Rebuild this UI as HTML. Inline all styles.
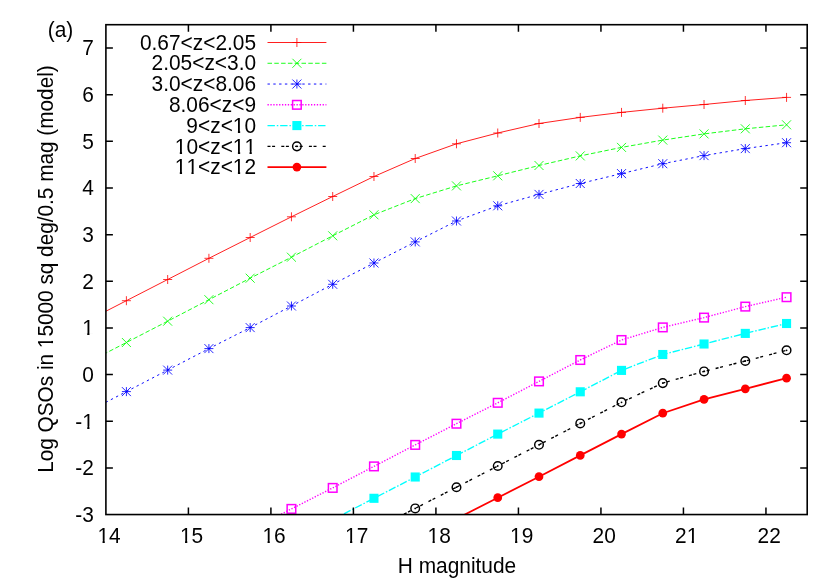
<!DOCTYPE html>
<html><head><meta charset="utf-8"><title>plot</title>
<style>html,body{margin:0;padding:0;background:#fff}svg{display:block}text{font-family:"Liberation Sans",sans-serif;font-size:21.6px;font-kerning:none;fill:#000}</style></head><body>
<svg width="830" height="581" viewBox="0 0 830 581">
<rect width="830" height="581" fill="#fff"/>
<defs><clipPath id="c"><rect x="105.9" y="24.7" width="701.30" height="489.85"/></clipPath></defs>
<g clip-path="url(#c)">
<path d="M85.14 321.90L126.40 300.70L167.66 279.50L208.92 258.30L250.18 237.50L291.44 216.80L332.70 196.50L373.96 176.50L415.22 158.50L456.48 143.80L497.74 133.00L539.00 123.50L580.26 117.40L621.52 112.40L662.78 108.20L704.04 104.50L745.30 100.50L786.56 97.40" stroke="#ff0000" stroke-width="0.88" fill="none"/>
<path d="M85.14 363.80L126.40 342.50L167.66 321.20L208.92 299.70L250.18 278.20L291.44 257.20L332.70 235.80L373.96 214.80L415.22 198.60L456.48 185.90L497.74 175.80L539.00 165.50L580.26 155.90L621.52 147.40L662.78 140.10L704.04 133.90L745.30 128.80L786.56 124.80" stroke="#00ff00" stroke-width="0.9" fill="none" stroke-dasharray="4.5 2.3"/>
<path d="M85.14 413.10L126.40 391.60L167.66 370.10L208.92 348.60L250.18 327.60L291.44 306.00L332.70 284.30L373.96 263.00L415.22 241.90L456.48 221.00L497.74 205.80L539.00 194.40L580.26 183.50L621.52 173.60L662.78 163.70L704.04 155.60L745.30 148.60L786.56 142.70" stroke="#0000ff" stroke-width="0.95" fill="none" stroke-dasharray="2.4 3.4"/>
<path d="M250.18 530.10L291.44 508.90L332.70 487.90L373.96 466.40L415.22 444.90L456.48 423.70L497.74 402.80L539.00 381.40L580.26 360.00L621.52 340.00L662.78 327.40L704.04 317.60L745.30 306.60L786.56 297.20" stroke="#ff00ff" stroke-width="1.4" fill="none" stroke-dasharray="1.3 1.6"/>
<path d="M332.70 519.60L373.96 498.30L415.22 477.00L456.48 455.50L497.74 434.10L539.00 413.10L580.26 391.80L621.52 370.40L662.78 354.50L704.04 344.00L745.30 333.40L786.56 323.50" stroke="#00ffff" stroke-width="1.35" fill="none" stroke-dasharray="7.4 1.9 1.5 1.85"/>
<path d="M373.96 529.60L415.22 508.40L456.48 487.20L497.74 466.00L539.00 444.80L580.26 423.40L621.52 402.30L662.78 383.10L704.04 371.40L745.30 361.00L786.56 350.30" stroke="#000000" stroke-width="1.35" fill="none" stroke-dasharray="3.0 1.6 3.0 6.2" stroke-dashoffset="-6.1"/>
<path d="M456.48 518.80L497.74 497.70L539.00 476.70L580.26 455.40L621.52 434.10L662.78 413.20L704.04 399.30L745.30 388.80L786.56 378.20" stroke="#ff0000" stroke-width="1.75" fill="none"/>
</g>
<path d="M121.90 300.70H130.90M126.40 296.20V305.20" stroke="#ff0000" stroke-width="0.8" fill="none"/>
<path d="M163.16 279.50H172.16M167.66 275.00V284.00" stroke="#ff0000" stroke-width="0.8" fill="none"/>
<path d="M204.42 258.30H213.42M208.92 253.80V262.80" stroke="#ff0000" stroke-width="0.8" fill="none"/>
<path d="M245.68 237.50H254.68M250.18 233.00V242.00" stroke="#ff0000" stroke-width="0.8" fill="none"/>
<path d="M286.94 216.80H295.94M291.44 212.30V221.30" stroke="#ff0000" stroke-width="0.8" fill="none"/>
<path d="M328.20 196.50H337.20M332.70 192.00V201.00" stroke="#ff0000" stroke-width="0.8" fill="none"/>
<path d="M369.46 176.50H378.46M373.96 172.00V181.00" stroke="#ff0000" stroke-width="0.8" fill="none"/>
<path d="M410.72 158.50H419.72M415.22 154.00V163.00" stroke="#ff0000" stroke-width="0.8" fill="none"/>
<path d="M451.98 143.80H460.98M456.48 139.30V148.30" stroke="#ff0000" stroke-width="0.8" fill="none"/>
<path d="M493.24 133.00H502.24M497.74 128.50V137.50" stroke="#ff0000" stroke-width="0.8" fill="none"/>
<path d="M534.50 123.50H543.50M539.00 119.00V128.00" stroke="#ff0000" stroke-width="0.8" fill="none"/>
<path d="M575.76 117.40H584.76M580.26 112.90V121.90" stroke="#ff0000" stroke-width="0.8" fill="none"/>
<path d="M617.02 112.40H626.02M621.52 107.90V116.90" stroke="#ff0000" stroke-width="0.8" fill="none"/>
<path d="M658.28 108.20H667.28M662.78 103.70V112.70" stroke="#ff0000" stroke-width="0.8" fill="none"/>
<path d="M699.54 104.50H708.54M704.04 100.00V109.00" stroke="#ff0000" stroke-width="0.8" fill="none"/>
<path d="M740.80 100.50H749.80M745.30 96.00V105.00" stroke="#ff0000" stroke-width="0.8" fill="none"/>
<path d="M782.06 97.40H791.06M786.56 92.90V101.90" stroke="#ff0000" stroke-width="0.8" fill="none"/>
<path d="M121.90 338.00L130.90 347.00M121.90 347.00L130.90 338.00" stroke="#00ff00" stroke-width="0.85" fill="none"/>
<path d="M163.16 316.70L172.16 325.70M163.16 325.70L172.16 316.70" stroke="#00ff00" stroke-width="0.85" fill="none"/>
<path d="M204.42 295.20L213.42 304.20M204.42 304.20L213.42 295.20" stroke="#00ff00" stroke-width="0.85" fill="none"/>
<path d="M245.68 273.70L254.68 282.70M245.68 282.70L254.68 273.70" stroke="#00ff00" stroke-width="0.85" fill="none"/>
<path d="M286.94 252.70L295.94 261.70M286.94 261.70L295.94 252.70" stroke="#00ff00" stroke-width="0.85" fill="none"/>
<path d="M328.20 231.30L337.20 240.30M328.20 240.30L337.20 231.30" stroke="#00ff00" stroke-width="0.85" fill="none"/>
<path d="M369.46 210.30L378.46 219.30M369.46 219.30L378.46 210.30" stroke="#00ff00" stroke-width="0.85" fill="none"/>
<path d="M410.72 194.10L419.72 203.10M410.72 203.10L419.72 194.10" stroke="#00ff00" stroke-width="0.85" fill="none"/>
<path d="M451.98 181.40L460.98 190.40M451.98 190.40L460.98 181.40" stroke="#00ff00" stroke-width="0.85" fill="none"/>
<path d="M493.24 171.30L502.24 180.30M493.24 180.30L502.24 171.30" stroke="#00ff00" stroke-width="0.85" fill="none"/>
<path d="M534.50 161.00L543.50 170.00M534.50 170.00L543.50 161.00" stroke="#00ff00" stroke-width="0.85" fill="none"/>
<path d="M575.76 151.40L584.76 160.40M575.76 160.40L584.76 151.40" stroke="#00ff00" stroke-width="0.85" fill="none"/>
<path d="M617.02 142.90L626.02 151.90M617.02 151.90L626.02 142.90" stroke="#00ff00" stroke-width="0.85" fill="none"/>
<path d="M658.28 135.60L667.28 144.60M658.28 144.60L667.28 135.60" stroke="#00ff00" stroke-width="0.85" fill="none"/>
<path d="M699.54 129.40L708.54 138.40M699.54 138.40L708.54 129.40" stroke="#00ff00" stroke-width="0.85" fill="none"/>
<path d="M740.80 124.30L749.80 133.30M740.80 133.30L749.80 124.30" stroke="#00ff00" stroke-width="0.85" fill="none"/>
<path d="M782.06 120.30L791.06 129.30M782.06 129.30L791.06 120.30" stroke="#00ff00" stroke-width="0.85" fill="none"/>
<path d="M121.90 387.10L130.90 396.10M121.90 396.10L130.90 387.10M121.90 391.60H130.90M126.40 387.10V396.10" stroke="#0000ff" stroke-width="0.85" fill="none"/>
<path d="M163.16 365.60L172.16 374.60M163.16 374.60L172.16 365.60M163.16 370.10H172.16M167.66 365.60V374.60" stroke="#0000ff" stroke-width="0.85" fill="none"/>
<path d="M204.42 344.10L213.42 353.10M204.42 353.10L213.42 344.10M204.42 348.60H213.42M208.92 344.10V353.10" stroke="#0000ff" stroke-width="0.85" fill="none"/>
<path d="M245.68 323.10L254.68 332.10M245.68 332.10L254.68 323.10M245.68 327.60H254.68M250.18 323.10V332.10" stroke="#0000ff" stroke-width="0.85" fill="none"/>
<path d="M286.94 301.50L295.94 310.50M286.94 310.50L295.94 301.50M286.94 306.00H295.94M291.44 301.50V310.50" stroke="#0000ff" stroke-width="0.85" fill="none"/>
<path d="M328.20 279.80L337.20 288.80M328.20 288.80L337.20 279.80M328.20 284.30H337.20M332.70 279.80V288.80" stroke="#0000ff" stroke-width="0.85" fill="none"/>
<path d="M369.46 258.50L378.46 267.50M369.46 267.50L378.46 258.50M369.46 263.00H378.46M373.96 258.50V267.50" stroke="#0000ff" stroke-width="0.85" fill="none"/>
<path d="M410.72 237.40L419.72 246.40M410.72 246.40L419.72 237.40M410.72 241.90H419.72M415.22 237.40V246.40" stroke="#0000ff" stroke-width="0.85" fill="none"/>
<path d="M451.98 216.50L460.98 225.50M451.98 225.50L460.98 216.50M451.98 221.00H460.98M456.48 216.50V225.50" stroke="#0000ff" stroke-width="0.85" fill="none"/>
<path d="M493.24 201.30L502.24 210.30M493.24 210.30L502.24 201.30M493.24 205.80H502.24M497.74 201.30V210.30" stroke="#0000ff" stroke-width="0.85" fill="none"/>
<path d="M534.50 189.90L543.50 198.90M534.50 198.90L543.50 189.90M534.50 194.40H543.50M539.00 189.90V198.90" stroke="#0000ff" stroke-width="0.85" fill="none"/>
<path d="M575.76 179.00L584.76 188.00M575.76 188.00L584.76 179.00M575.76 183.50H584.76M580.26 179.00V188.00" stroke="#0000ff" stroke-width="0.85" fill="none"/>
<path d="M617.02 169.10L626.02 178.10M617.02 178.10L626.02 169.10M617.02 173.60H626.02M621.52 169.10V178.10" stroke="#0000ff" stroke-width="0.85" fill="none"/>
<path d="M658.28 159.20L667.28 168.20M658.28 168.20L667.28 159.20M658.28 163.70H667.28M662.78 159.20V168.20" stroke="#0000ff" stroke-width="0.85" fill="none"/>
<path d="M699.54 151.10L708.54 160.10M699.54 160.10L708.54 151.10M699.54 155.60H708.54M704.04 151.10V160.10" stroke="#0000ff" stroke-width="0.85" fill="none"/>
<path d="M740.80 144.10L749.80 153.10M740.80 153.10L749.80 144.10M740.80 148.60H749.80M745.30 144.10V153.10" stroke="#0000ff" stroke-width="0.85" fill="none"/>
<path d="M782.06 138.20L791.06 147.20M782.06 147.20L791.06 138.20M782.06 142.70H791.06M786.56 138.20V147.20" stroke="#0000ff" stroke-width="0.85" fill="none"/>
<rect x="287.14" y="504.60" width="8.60" height="8.60" stroke="#ff00ff" stroke-width="1.5" fill="none"/>
<rect x="328.40" y="483.60" width="8.60" height="8.60" stroke="#ff00ff" stroke-width="1.5" fill="none"/>
<rect x="369.66" y="462.10" width="8.60" height="8.60" stroke="#ff00ff" stroke-width="1.5" fill="none"/>
<rect x="410.92" y="440.60" width="8.60" height="8.60" stroke="#ff00ff" stroke-width="1.5" fill="none"/>
<rect x="452.18" y="419.40" width="8.60" height="8.60" stroke="#ff00ff" stroke-width="1.5" fill="none"/>
<rect x="493.44" y="398.50" width="8.60" height="8.60" stroke="#ff00ff" stroke-width="1.5" fill="none"/>
<rect x="534.70" y="377.10" width="8.60" height="8.60" stroke="#ff00ff" stroke-width="1.5" fill="none"/>
<rect x="575.96" y="355.70" width="8.60" height="8.60" stroke="#ff00ff" stroke-width="1.5" fill="none"/>
<rect x="617.22" y="335.70" width="8.60" height="8.60" stroke="#ff00ff" stroke-width="1.5" fill="none"/>
<rect x="658.48" y="323.10" width="8.60" height="8.60" stroke="#ff00ff" stroke-width="1.5" fill="none"/>
<rect x="699.74" y="313.30" width="8.60" height="8.60" stroke="#ff00ff" stroke-width="1.5" fill="none"/>
<rect x="741.00" y="302.30" width="8.60" height="8.60" stroke="#ff00ff" stroke-width="1.5" fill="none"/>
<rect x="782.26" y="292.90" width="8.60" height="8.60" stroke="#ff00ff" stroke-width="1.5" fill="none"/>
<rect x="369.41" y="493.75" width="9.10" height="9.10" fill="#00ffff"/>
<rect x="410.67" y="472.45" width="9.10" height="9.10" fill="#00ffff"/>
<rect x="451.93" y="450.95" width="9.10" height="9.10" fill="#00ffff"/>
<rect x="493.19" y="429.55" width="9.10" height="9.10" fill="#00ffff"/>
<rect x="534.45" y="408.55" width="9.10" height="9.10" fill="#00ffff"/>
<rect x="575.71" y="387.25" width="9.10" height="9.10" fill="#00ffff"/>
<rect x="616.97" y="365.85" width="9.10" height="9.10" fill="#00ffff"/>
<rect x="658.23" y="349.95" width="9.10" height="9.10" fill="#00ffff"/>
<rect x="699.49" y="339.45" width="9.10" height="9.10" fill="#00ffff"/>
<rect x="740.75" y="328.85" width="9.10" height="9.10" fill="#00ffff"/>
<rect x="782.01" y="318.95" width="9.10" height="9.10" fill="#00ffff"/>
<circle cx="415.22" cy="508.40" r="4.3" stroke="#000000" stroke-width="1.45" fill="none"/><circle cx="415.22" cy="508.40" r="0.9" fill="#000000"/>
<circle cx="456.48" cy="487.20" r="4.3" stroke="#000000" stroke-width="1.45" fill="none"/><circle cx="456.48" cy="487.20" r="0.9" fill="#000000"/>
<circle cx="497.74" cy="466.00" r="4.3" stroke="#000000" stroke-width="1.45" fill="none"/><circle cx="497.74" cy="466.00" r="0.9" fill="#000000"/>
<circle cx="539.00" cy="444.80" r="4.3" stroke="#000000" stroke-width="1.45" fill="none"/><circle cx="539.00" cy="444.80" r="0.9" fill="#000000"/>
<circle cx="580.26" cy="423.40" r="4.3" stroke="#000000" stroke-width="1.45" fill="none"/><circle cx="580.26" cy="423.40" r="0.9" fill="#000000"/>
<circle cx="621.52" cy="402.30" r="4.3" stroke="#000000" stroke-width="1.45" fill="none"/><circle cx="621.52" cy="402.30" r="0.9" fill="#000000"/>
<circle cx="662.78" cy="383.10" r="4.3" stroke="#000000" stroke-width="1.45" fill="none"/><circle cx="662.78" cy="383.10" r="0.9" fill="#000000"/>
<circle cx="704.04" cy="371.40" r="4.3" stroke="#000000" stroke-width="1.45" fill="none"/><circle cx="704.04" cy="371.40" r="0.9" fill="#000000"/>
<circle cx="745.30" cy="361.00" r="4.3" stroke="#000000" stroke-width="1.45" fill="none"/><circle cx="745.30" cy="361.00" r="0.9" fill="#000000"/>
<circle cx="786.56" cy="350.30" r="4.3" stroke="#000000" stroke-width="1.45" fill="none"/><circle cx="786.56" cy="350.30" r="0.9" fill="#000000"/>
<circle cx="497.74" cy="497.70" r="4.35" fill="#ff0000"/>
<circle cx="539.00" cy="476.70" r="4.35" fill="#ff0000"/>
<circle cx="580.26" cy="455.40" r="4.35" fill="#ff0000"/>
<circle cx="621.52" cy="434.10" r="4.35" fill="#ff0000"/>
<circle cx="662.78" cy="413.20" r="4.35" fill="#ff0000"/>
<circle cx="704.04" cy="399.30" r="4.35" fill="#ff0000"/>
<circle cx="745.30" cy="388.80" r="4.35" fill="#ff0000"/>
<circle cx="786.56" cy="378.20" r="4.35" fill="#ff0000"/>
<path d="M267.5 42.50H326.4" stroke="#ff0000" stroke-width="0.88" fill="none"/>
<path d="M292.40 42.50H301.40M296.90 38.00V47.00" stroke="#ff0000" stroke-width="0.8" fill="none"/>
<path d="M267.5 63.27H326.4" stroke="#00ff00" stroke-width="0.9" fill="none" stroke-dasharray="4.5 2.3"/>
<path d="M292.40 58.77L301.40 67.77M292.40 67.77L301.40 58.77" stroke="#00ff00" stroke-width="0.85" fill="none"/>
<path d="M267.5 84.04H326.4" stroke="#0000ff" stroke-width="0.95" fill="none" stroke-dasharray="2.4 3.4"/>
<path d="M292.40 79.54L301.40 88.54M292.40 88.54L301.40 79.54M292.40 84.04H301.40M296.90 79.54V88.54" stroke="#0000ff" stroke-width="0.85" fill="none"/>
<path d="M267.5 104.81H326.4" stroke="#ff00ff" stroke-width="1.4" fill="none" stroke-dasharray="1.3 1.6"/>
<rect x="292.60" y="100.51" width="8.60" height="8.60" stroke="#ff00ff" stroke-width="1.5" fill="none"/>
<path d="M267.5 125.58H326.4" stroke="#00ffff" stroke-width="1.35" fill="none" stroke-dasharray="7.4 1.9 1.5 1.85"/>
<rect x="292.35" y="121.03" width="9.10" height="9.10" fill="#00ffff"/>
<path d="M267.5 146.35H326.4" stroke="#000000" stroke-width="1.35" fill="none" stroke-dasharray="3.0 1.6 3.0 6.2"/>
<circle cx="296.90" cy="146.35" r="4.3" stroke="#000000" stroke-width="1.45" fill="none"/><circle cx="296.90" cy="146.35" r="0.9" fill="#000000"/>
<path d="M267.5 167.12H326.4" stroke="#ff0000" stroke-width="1.75" fill="none"/>
<circle cx="296.90" cy="167.12" r="4.35" fill="#ff0000"/>
<path d="M188.41 514.55V507.54999999999995M188.41 24.7V31.7M270.91 514.55V507.54999999999995M270.91 24.7V31.7M353.42 514.55V507.54999999999995M353.42 24.7V31.7M435.92 514.55V507.54999999999995M435.92 24.7V31.7M518.43 514.55V507.54999999999995M518.43 24.7V31.7M600.94 514.55V507.54999999999995M600.94 24.7V31.7M683.44 514.55V507.54999999999995M683.44 24.7V31.7M765.95 514.55V507.54999999999995M765.95 24.7V31.7M105.9 467.90H112.9M807.2 467.90H800.2M105.9 421.25H112.9M807.2 421.25H800.2M105.9 374.59H112.9M807.2 374.59H800.2M105.9 327.94H112.9M807.2 327.94H800.2M105.9 281.29H112.9M807.2 281.29H800.2M105.9 234.64H112.9M807.2 234.64H800.2M105.9 187.98H112.9M807.2 187.98H800.2M105.9 141.33H112.9M807.2 141.33H800.2M105.9 94.68H112.9M807.2 94.68H800.2M105.9 48.03H112.9M807.2 48.03H800.2" stroke="#000" stroke-width="1.5" fill="none"/>
<rect x="105.9" y="24.7" width="701.30" height="489.85" stroke="#000" stroke-width="1.6" fill="none"/>
<g style="will-change:opacity" opacity="0.999">
<g transform="translate(109.10 542.80)"><text transform="scale(0.9676 1)" text-anchor="middle">14</text><rect x="-11.22" y="-2.36" width="4.65" height="4.21" fill="#fff"/><rect x="-4.32" y="-2.36" width="4.54" height="4.21" fill="#fff"/></g>
<g transform="translate(191.61 542.80)"><text transform="scale(0.9676 1)" text-anchor="middle">15</text><rect x="-11.22" y="-2.36" width="4.65" height="4.21" fill="#fff"/><rect x="-4.32" y="-2.36" width="4.54" height="4.21" fill="#fff"/></g>
<g transform="translate(274.11 542.80)"><text transform="scale(0.9676 1)" text-anchor="middle">16</text><rect x="-11.22" y="-2.36" width="4.65" height="4.21" fill="#fff"/><rect x="-4.32" y="-2.36" width="4.54" height="4.21" fill="#fff"/></g>
<g transform="translate(356.62 542.80)"><text transform="scale(0.9676 1)" text-anchor="middle">17</text><rect x="-11.22" y="-2.36" width="4.65" height="4.21" fill="#fff"/><rect x="-4.32" y="-2.36" width="4.54" height="4.21" fill="#fff"/></g>
<g transform="translate(439.12 542.80)"><text transform="scale(0.9676 1)" text-anchor="middle">18</text><rect x="-11.22" y="-2.36" width="4.65" height="4.21" fill="#fff"/><rect x="-4.32" y="-2.36" width="4.54" height="4.21" fill="#fff"/></g>
<g transform="translate(521.63 542.80)"><text transform="scale(0.9676 1)" text-anchor="middle">19</text><rect x="-11.22" y="-2.36" width="4.65" height="4.21" fill="#fff"/><rect x="-4.32" y="-2.36" width="4.54" height="4.21" fill="#fff"/></g>
<g transform="translate(604.14 542.80)"><text transform="scale(0.9676 1)" text-anchor="middle">20</text></g>
<g transform="translate(686.64 542.80)"><text transform="scale(0.9676 1)" text-anchor="middle">21</text><rect x="0.41" y="-2.36" width="4.65" height="4.21" fill="#fff"/><rect x="7.30" y="-2.36" width="4.54" height="4.21" fill="#fff"/></g>
<g transform="translate(769.15 542.80)"><text transform="scale(0.9676 1)" text-anchor="middle">22</text></g>
<g transform="translate(93.80 522.00)"><text transform="scale(0.9676 1)" text-anchor="end">-3</text></g>
<g transform="translate(93.80 475.35)"><text transform="scale(0.9676 1)" text-anchor="end">-2</text></g>
<g transform="translate(93.80 428.70)"><text transform="scale(0.9676 1)" text-anchor="end">-1</text><rect x="-11.22" y="-2.36" width="4.65" height="4.21" fill="#fff"/><rect x="-4.32" y="-2.36" width="4.54" height="4.21" fill="#fff"/></g>
<g transform="translate(93.80 382.04)"><text transform="scale(0.9676 1)" text-anchor="end">0</text></g>
<g transform="translate(93.80 335.39)"><text transform="scale(0.9676 1)" text-anchor="end">1</text><rect x="-11.22" y="-2.36" width="4.65" height="4.21" fill="#fff"/><rect x="-4.32" y="-2.36" width="4.54" height="4.21" fill="#fff"/></g>
<g transform="translate(93.80 288.74)"><text transform="scale(0.9676 1)" text-anchor="end">2</text></g>
<g transform="translate(93.80 242.09)"><text transform="scale(0.9676 1)" text-anchor="end">3</text></g>
<g transform="translate(93.80 195.43)"><text transform="scale(0.9676 1)" text-anchor="end">4</text></g>
<g transform="translate(93.80 148.78)"><text transform="scale(0.9676 1)" text-anchor="end">5</text></g>
<g transform="translate(93.80 102.13)"><text transform="scale(0.9676 1)" text-anchor="end">6</text></g>
<g transform="translate(93.80 55.48)"><text transform="scale(0.9676 1)" text-anchor="end">7</text></g>
<g transform="translate(256.10 49.70)"><text transform="scale(0.9676 1)" text-anchor="end">0.67&lt;z&lt;2.05</text></g>
<g transform="translate(256.10 70.47)"><text transform="scale(0.9676 1)" text-anchor="end">2.05&lt;z&lt;3.0</text></g>
<g transform="translate(256.10 91.24)"><text transform="scale(0.9676 1)" text-anchor="end">3.0&lt;z&lt;8.06</text></g>
<g transform="translate(256.10 112.01)"><text transform="scale(0.9676 1)" text-anchor="end">8.06&lt;z&lt;9</text></g>
<g transform="translate(256.10 132.78)"><text transform="scale(0.9676 1)" text-anchor="end">9&lt;z&lt;10</text><rect x="-22.84" y="-2.36" width="4.65" height="4.21" fill="#fff"/><rect x="-15.94" y="-2.36" width="4.54" height="4.21" fill="#fff"/></g>
<g transform="translate(256.10 153.55)"><text transform="scale(0.9676 1)" text-anchor="end">10&lt;z&lt;11</text><rect x="-80.95" y="-2.36" width="4.65" height="4.21" fill="#fff"/><rect x="-74.05" y="-2.36" width="4.54" height="4.21" fill="#fff"/><rect x="-22.84" y="-2.36" width="4.65" height="4.21" fill="#fff"/><rect x="-15.94" y="-2.36" width="4.54" height="4.21" fill="#fff"/><rect x="-11.22" y="-2.36" width="4.65" height="4.21" fill="#fff"/><rect x="-4.32" y="-2.36" width="4.54" height="4.21" fill="#fff"/></g>
<g transform="translate(256.10 174.32)"><text transform="scale(0.9676 1)" text-anchor="end">11&lt;z&lt;12</text><rect x="-80.95" y="-2.36" width="4.65" height="4.21" fill="#fff"/><rect x="-74.05" y="-2.36" width="4.54" height="4.21" fill="#fff"/><rect x="-69.32" y="-2.36" width="4.65" height="4.21" fill="#fff"/><rect x="-62.43" y="-2.36" width="4.54" height="4.21" fill="#fff"/><rect x="-22.84" y="-2.36" width="4.65" height="4.21" fill="#fff"/><rect x="-15.94" y="-2.36" width="4.54" height="4.21" fill="#fff"/></g>
<g transform="translate(47.70 37.00)"><text transform="scale(0.9676 1)" text-anchor="start">(a)</text></g>
<g transform="translate(457.00 573.30)"><text transform="scale(0.9676 1)" text-anchor="middle">H magnitude</text></g>
<g transform="translate(52.50 269.05) rotate(-90)"><text transform="scale(0.9618 1)" text-anchor="middle">Log QSOs in 15000 sq deg/0.5 mag (model)</text><rect x="-78.71" y="-2.36" width="4.62" height="4.21" fill="#fff"/><rect x="-71.86" y="-2.36" width="4.51" height="4.21" fill="#fff"/></g>
</g>
</svg></body></html>
